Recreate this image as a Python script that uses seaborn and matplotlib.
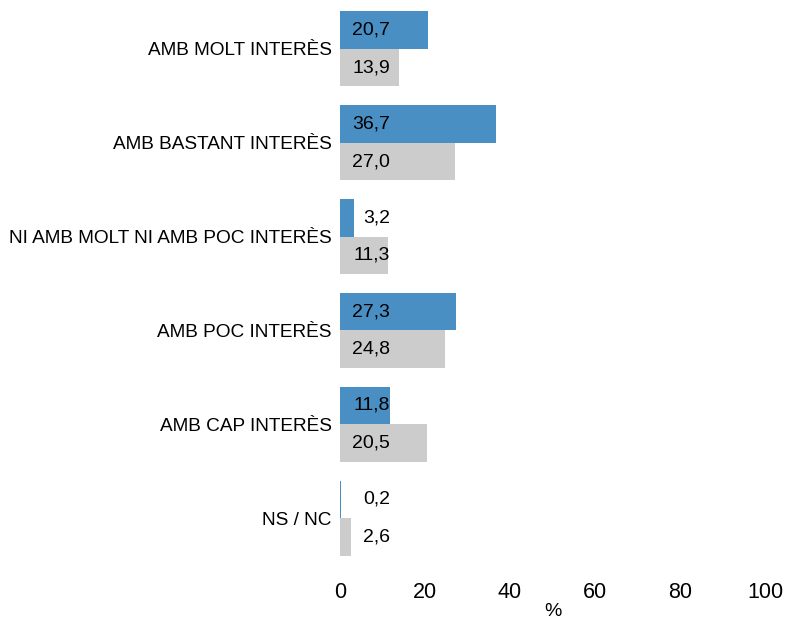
import numpy as np
import pandas as pd
import matplotlib
matplotlib.use("Agg")
import matplotlib.pyplot as plt
import seaborn as sns

### Daten
categories = ["AMB MOLT INTERÈS", "AMB BASTANT INTERÈS", "NI AMB MOLT NI AMB POC INTERÈS",
              "AMB POC INTERÈS", "AMB CAP INTERÈS", "NS / NC"]
serie_blau = [20.7, 36.7, 3.2, 27.3, 11.8, 0.2]
serie_gris = [13.9, 27.0, 11.3, 24.8, 20.5, 2.6]
series = ["Sèrie 1", "Sèrie 2"]
x_ticks = [0, 20, 40, 60, 80, 100]

### Stil
sns.set_style("white")
plt.rcParams["font.family"] = ["Liberation Sans", "DejaVu Sans"]
plt.rcParams["text.color"] = "black"
plt.rcParams["xtick.color"] = "black"
plt.rcParams["ytick.color"] = "black"
plt.rcParams["axes.labelcolor"] = "black"

colors = ["#4a8fc4", "#cccccc"]

df = pd.DataFrame({
    "categoria": categories * 2,
    "serie": [series[0]] * len(categories) + [series[1]] * len(categories),
    "valor": serie_blau + serie_gris,
})

fig = plt.figure(figsize=(7.86, 6.23), dpi=100)
ax = fig.add_axes([340 / 786, 1 - 565 / 623, 425 / 786, 563 / 623])

sns.barplot(data=df, y="categoria", x="valor", hue="serie", palette=colors,
            orient="h", width=0.8, saturation=1, errorbar=None, ax=ax, legend=False,
            linewidth=0)

# Werte-Labels (rechtsbündig an fester Position)
for container, vals in zip(ax.containers, [serie_blau, serie_gris]):
    for bar, v in zip(container, vals):
        y = bar.get_y() + bar.get_height() / 2
        ax.text(11.8, y, f"{v:.1f}".replace(".", ","), ha="right", va="center",
                fontsize=14, color="black")

ax.set_xlim(0, 100)
ax.set_xticks(x_ticks)
ax.set_xticklabels([str(t) for t in x_ticks], fontsize=15.5)
ax.tick_params(axis="x", length=0, pad=12)
ax.tick_params(axis="y", length=0, pad=6, labelsize=13.7)
ax.set_xlabel("%", fontsize=14, labelpad=0)
ax.set_ylabel("")
for s in ax.spines.values():
    s.set_visible(False)

fig.savefig("out.png", dpi=100)
